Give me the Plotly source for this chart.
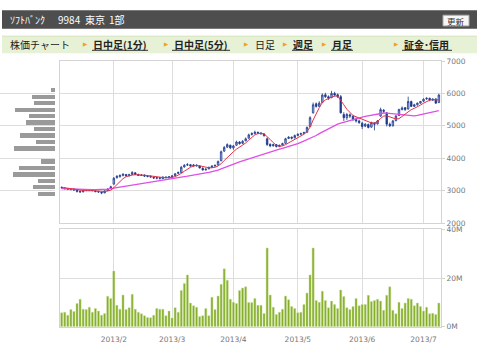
import pandas as pd
import plotly.graph_objects as go

# ---------------- data ----------------
holidays = ["2013-01-14", "2013-02-11", "2013-03-20", "2013-04-29", "2013-05-03", "2013-05-06"]
days = pd.bdate_range("2013-01-08", "2013-07-08")
dates = [d.strftime("%Y-%m-%d") for d in days if d.strftime("%Y-%m-%d") not in holidays]

open_ = [3100, 3080, 3060, 3030, 3050, 3010, 2980, 2960, 3000, 3010, 3030, 2990, 2970, 2950, 2930, 3000, 3060,
         3200, 3400, 3430, 3470, 3500, 3460, 3500, 3550, 3500, 3470, 3480, 3450, 3440, 3410, 3380, 3400, 3370, 3420, 3390,
         3430, 3460, 3530, 3560, 3730, 3790, 3800, 3760, 3790, 3760, 3690, 3640, 3670, 3720, 3760, 3790, 3920, 4220, 4340, 4400,
         4320, 4400, 4500, 4460, 4540, 4620, 4730, 4760, 4800, 4780, 4750, 4600, 4430, 4380, 4420, 4360, 4410, 4460, 4610, 4650, 4630,
         4700, 4740, 4770, 4800, 4980, 5400, 5680, 5600, 5720, 5960, 5900, 5870, 6000, 5960, 5900, 5350, 5250, 5340, 5300, 5200, 5150,
         5080, 4990, 5040, 4960, 5080, 5060, 5300, 5480, 5400, 5050, 5000, 5160, 5320, 5500, 5560, 5520, 5750, 5600, 5650, 5700,
         5760, 5830, 5850, 5790, 5830, 5720]
high = [3130, 3110, 3080, 3070, 3060, 3030, 3000, 3020, 3040, 3050, 3040, 3010, 2990, 2970, 3010, 3070, 3150,
        3420, 3480, 3500, 3540, 3510, 3520, 3600, 3570, 3520, 3510, 3500, 3480, 3470, 3430, 3420, 3420, 3440, 3440, 3450,
        3480, 3540, 3590, 3760, 3820, 3850, 3820, 3820, 3810, 3780, 3720, 3690, 3740, 3780, 3800, 3930, 4240, 4380, 4460, 4420,
        4410, 4540, 4530, 4560, 4640, 4760, 4800, 4850, 4820, 4800, 4770, 4640, 4460, 4450, 4440, 4420, 4480, 4630, 4680, 4670, 4730,
        4770, 4790, 4820, 4980, 5300, 5720, 5720, 5760, 6000, 6020, 5940, 6080, 6050, 6000, 5950, 5420, 5400, 5380, 5320, 5260, 5190,
        5120, 5080, 5070, 5130, 5110, 5180, 5560, 5520, 5420, 5100, 5180, 5340, 5530, 5600, 5580, 5900, 5780, 5680, 5720, 5770,
        5850, 5880, 5870, 5850, 5850, 5990]
low = [3060, 3040, 3020, 3010, 3000, 2940, 2930, 2950, 2980, 2990, 2980, 2950, 2930, 2890, 2920, 2990, 3050,
       3190, 3370, 3400, 3440, 3430, 3440, 3480, 3480, 3450, 3450, 3420, 3410, 3400, 3360, 3350, 3340, 3360, 3380, 3380,
       3410, 3450, 3510, 3550, 3710, 3760, 3740, 3740, 3740, 3680, 3610, 3620, 3660, 3700, 3740, 3780, 3910, 4190, 4320, 4280,
       4260, 4380, 4420, 4440, 4520, 4600, 4700, 4740, 4740, 4720, 4660, 4380, 4340, 4360, 4330, 4340, 4390, 4450, 4590, 4580, 4610,
       4680, 4710, 4740, 4790, 4960, 5380, 5560, 5580, 5700, 5860, 5800, 5850, 5900, 5860, 5380, 5150, 5180, 5240, 5150, 5100, 5060,
       4900, 4960, 4920, 4940, 4860, 5040, 5280, 5400, 4980, 4960, 4980, 5140, 5300, 5480, 5460, 5500, 5580, 5580, 5620, 5680,
       5740, 5800, 5760, 5770, 5680, 5700]
close = [3090, 3060, 3040, 3050, 3020, 2980, 2960, 3000, 3010, 3030, 3000, 2970, 2960, 2930, 2990, 3050, 3120,
         3380, 3440, 3470, 3500, 3460, 3490, 3560, 3500, 3470, 3480, 3450, 3440, 3420, 3390, 3400, 3380, 3420, 3400, 3430,
         3450, 3520, 3560, 3720, 3780, 3800, 3760, 3790, 3770, 3700, 3640, 3660, 3720, 3760, 3780, 3900, 4200, 4330, 4420, 4320,
         4380, 4500, 4450, 4520, 4600, 4720, 4760, 4800, 4780, 4760, 4700, 4420, 4380, 4420, 4360, 4400, 4450, 4600, 4650, 4620, 4700,
         4740, 4760, 4790, 4950, 5250, 5650, 5600, 5700, 5950, 5900, 5850, 6000, 5950, 5900, 5400, 5250, 5350, 5300, 5200, 5150, 5100,
         4980, 5050, 4950, 5100, 5050, 5150, 5500, 5450, 5050, 5000, 5150, 5300, 5500, 5550, 5500, 5750, 5600, 5650, 5700, 5750,
         5820, 5850, 5800, 5820, 5700, 5950]
ma_short = [3100, 3090, 3075, 3060, 3050, 3035, 3015, 3005, 2995, 2995, 3000, 3000, 2995, 2980, 2970, 2980, 3010,
            3090, 3190, 3290, 3370, 3430, 3460, 3480, 3490, 3490, 3485, 3475, 3465, 3450, 3435, 3420, 3410, 3405, 3400, 3400,
            3410, 3430, 3470, 3530, 3600, 3670, 3720, 3760, 3775, 3765, 3740, 3715, 3705, 3705, 3720, 3760, 3830, 3930, 4030, 4120,
            4200, 4280, 4340, 4400, 4470, 4560, 4650, 4720, 4760, 4770, 4750, 4670, 4580, 4480, 4400, 4370, 4380, 4420, 4470, 4520, 4580,
            4640, 4690, 4740, 4820, 4960, 5180, 5380, 5560, 5720, 5800, 5840, 5890, 5920, 5920, 5800, 5650, 5510, 5400, 5320, 5280, 5240,
            5190, 5150, 5110, 5090, 5090, 5130, 5230, 5300, 5310, 5280, 5240, 5210, 5220, 5290, 5370, 5450, 5500, 5540, 5580, 5640,
            5700, 5750, 5790, 5810, 5800, 5800]
ma_long = [3060, 3055, 3050, 3045, 3040, 3035, 3030, 3030, 3030, 3030, 3030, 3030, 3030, 3030, 3035, 3045, 3060,
           3080, 3095, 3110, 3125, 3140, 3155, 3170, 3185, 3200, 3210, 3220, 3235, 3245, 3260, 3275, 3290, 3305, 3320, 3335,
           3350, 3365, 3385, 3405, 3425, 3445, 3465, 3485, 3500, 3515, 3530, 3545, 3560, 3580, 3600, 3630, 3670, 3710, 3750, 3790,
           3830, 3860, 3890, 3920, 3950, 3985, 4020, 4055, 4090, 4120, 4150, 4180, 4205, 4230, 4255, 4280, 4305, 4330, 4360, 4390, 4420,
           4450, 4490, 4530, 4570, 4610, 4650, 4700, 4760, 4810, 4860, 4910, 4960, 5010, 5050, 5080, 5110, 5140, 5170, 5200, 5225, 5250,
           5270, 5290, 5310, 5330, 5350, 5370, 5385, 5395, 5390, 5380, 5370, 5355, 5340, 5330, 5320, 5310, 5305, 5310, 5320, 5340,
           5360, 5380, 5400, 5420, 5440, 5470]
volume_m = [5.7, 5.9, 4.7, 7.0, 6.2, 9.5, 11.3, 7.2, 7.0, 8.0, 5.9, 7.5, 6.4, 4.7, 5.4, 12.5, 11.6,
            22.9, 8.8, 7.2, 13.0, 7.0, 7.8, 13.3, 7.2, 5.9, 5.3, 4.5, 3.8, 3.7, 4.7, 7.5, 7.2, 7.2, 4.5, 6.4,
            3.6, 7.8, 5.9, 14.9, 17.8, 21.3, 9.7, 8.6, 8.0, 4.2, 4.5, 7.5, 4.5, 12.1, 7.0, 12.6, 17.4, 23.8, 19.1, 11.3,
            10.0, 9.5, 14.9, 15.9, 16.4, 9.9, 9.9, 11.6, 8.8, 8.8, 5.4, 32.4, 13.0, 8.0, 5.0, 5.9, 7.2, 12.6, 11.1, 8.3, 7.5,
            5.7, 5.9, 9.1, 13.8, 21.3, 32.4, 10.8, 10.0, 14.6, 10.8, 7.8, 10.5, 9.1, 7.5, 15.1, 12.4, 7.8, 7.0, 8.3, 11.6, 8.6,
            9.1, 9.1, 12.9, 10.3, 10.8, 11.3, 10.5, 6.7, 12.9, 16.4, 6.7, 5.3, 10.0, 7.5, 9.7, 11.6, 11.3, 8.6, 9.7, 8.3,
            6.4, 8.0, 5.3, 5.5, 5.0, 9.7]

profile_price = [2900, 3100, 3300, 3500, 3700, 3900, 4100, 4300, 4500, 4700, 4900, 5100, 5300, 5500, 5700, 5900, 6100]
profile_volume = [16.7, 22, 17.3, 42, 36, 14.3, 0, 40.7, 19.3, 35, 21.3, 29.3, 26, 40, 21.3, 22.7, 4]

month_ticks = ["2013-02-01", "2013-03-01", "2013-04-01", "2013-05-01", "2013-06-03", "2013-07-01"]
month_labels = ["2013/2", "2013/3", "2013/4", "2013/5", "2013/6", "2013/7"]
price_ticks = [2000, 3000, 4000, 5000, 6000, 7000]
vol_ticks = [0, 20, 40]
vol_labels = ["0M", "20M", "40M"]

assert len(dates) == len(close) == len(volume_m) == len(ma_short) == len(ma_long) == 124

W, H = 480, 356
def px(x):
    return x / W
def py(y):
    return 1 - y / H

NAVY = "#1f3b8c"
fig = go.Figure()
fig.add_trace(go.Candlestick(
    x=dates, open=open_, high=high, low=low, close=close,
    xaxis="x", yaxis="y", whiskerwidth=0,
    increasing=dict(line=dict(color=NAVY, width=0.8), fillcolor="#a6bde6"),
    decreasing=dict(line=dict(color=NAVY, width=0.8), fillcolor=NAVY),
    showlegend=False, hoverinfo="skip"))
fig.add_trace(go.Scatter(x=dates, y=ma_long, mode="lines", line=dict(color="#e04ee8", width=1.3),
                         xaxis="x", yaxis="y", showlegend=False, hoverinfo="skip"))
fig.add_trace(go.Scatter(x=dates, y=ma_short, mode="lines", line=dict(color="#e8304a", width=1),
                         xaxis="x", yaxis="y", showlegend=False, hoverinfo="skip"))
fig.add_trace(go.Bar(x=dates, y=volume_m, xaxis="x2", yaxis="y2", width=0.68,
                     marker=dict(color="#84ad28", line=dict(color="#cde3a0", width=0.5)),
                     showlegend=False, hoverinfo="skip"))
fig.add_trace(go.Bar(y=profile_price, x=profile_volume, orientation="h", xaxis="x3", yaxis="y",
                     width=130, marker=dict(color="#9a9a9a", line=dict(width=0)),
                     showlegend=False, hoverinfo="skip"))

grid = "#dddddd"
frame = "#d4d4d4"
tickfont = dict(family="DejaVu Sans", size=7.5, color="#777777")
xdom = [px(60), px(441)]
xrange = [-0.55, 123.7]

fig.update_layout(
    width=W, height=H, margin=dict(l=0, r=0, t=0, b=0),
    paper_bgcolor="white", plot_bgcolor="white",
    font=dict(family="DejaVu Sans"),
    bargap=0,
    xaxis=dict(domain=xdom, type="category", range=xrange, anchor="y",
               tickvals=month_ticks, showticklabels=False, ticks="",
               showgrid=True, gridcolor=grid, gridwidth=1,
               showline=True, mirror=True, linecolor=frame, linewidth=1,
               rangeslider=dict(visible=False), fixedrange=True),
    yaxis=dict(domain=[py(224.7), py(58.5)], range=[2000, 7000], anchor="x", side="right",
               tickvals=price_ticks, tickfont=tickfont, ticks="outside", ticklen=3, tickcolor=frame,
               showgrid=True, gridcolor=grid, gridwidth=1, zeroline=False,
               showline=True, mirror=True, linecolor=frame, linewidth=1),
    xaxis2=dict(domain=xdom, type="category", range=xrange, anchor="y2",
                tickvals=month_ticks, ticktext=month_labels, tickfont=tickfont,
                ticks="outside", ticklen=5, tickcolor="white",
                showgrid=True, gridcolor=grid, gridwidth=1,
                showline=True, mirror=True, linecolor=frame, linewidth=1),
    yaxis2=dict(domain=[py(331), py(231.3)], range=[0, 40], anchor="x2", side="right",
                tickvals=vol_ticks, ticktext=vol_labels, tickfont=tickfont,
                ticks="outside", ticklen=3, tickcolor=frame,
                showgrid=True, gridcolor=grid, gridwidth=1, zeroline=False,
                showline=True, mirror=True, linecolor=frame, linewidth=1),
    xaxis3=dict(domain=[0, px(55)], range=[max(profile_volume) * 55 / 42, 0], anchor="y",
                visible=False, showgrid=False, zeroline=False),
)

shapes = []
anns = []
# header bar
shapes.append(dict(type="rect", xref="paper", yref="paper", x0=px(2), x1=px(477), y0=py(25.5), y1=py(6.5),
                   fillcolor="#4e4e4e", line=dict(width=0), layer="below"))
# update button
shapes.append(dict(type="rect", xref="paper", yref="paper", x0=px(443), x1=px(469), y0=py(22.5), y1=py(11.5),
                   fillcolor="#f6f6f6", line=dict(color="#aaaaaa", width=1)))
cjk = "Noto Sans CJK JP"
for txt, x in [("ｿﾌﾄﾊﾞﾝｸ", 8), ("9984", 56), ("東京", 83), ("1部", 107)]:
    anns.append(dict(text=txt, x=px(x), y=py(16), xref="paper", yref="paper", xanchor="left", yanchor="middle",
                     showarrow=False, font=dict(family=cjk, size=10, color="white")))
anns.append(dict(text="更新", x=px(456), y=py(17), xref="paper", yref="paper", xanchor="center", yanchor="middle",
                 showarrow=False, font=dict(family=cjk, size=8.5, color="#333333")))
# green nav bar
shapes.append(dict(type="rect", xref="paper", yref="paper", x0=px(2), x1=px(477), y0=py(50.5), y1=py(33),
                   fillcolor="#e6f1d6", line=dict(width=0), layer="below"))
shapes.append(dict(type="line", xref="paper", yref="paper", x0=px(2), x1=px(477), y0=py(33), y1=py(33),
                   line=dict(color="#d2e4b8", width=1)))
anns.append(dict(text="株価チャート", x=px(8), y=py(41.5), xref="paper", yref="paper", xanchor="left",
                 yanchor="middle", showarrow=False, font=dict(family=cjk, size=10, color="#222222")))
tabs = [("日中足(1分)", 85, True), ("日中足(5分)", 166, True), ("日足", 247, False),
        ("週足", 285, True), ("月足", 324, True), ("証金･信用", 396, True)]
for txt, x, link in tabs:
    anns.append(dict(text="▶", x=px(x), y=py(41.5), xref="paper", yref="paper", xanchor="center",
                     yanchor="middle", showarrow=False, font=dict(family="DejaVu Sans", size=5.5, color="#f0a028")))
    t = f"<b>{txt}</b>" if link else txt
    anns.append(dict(text=t, x=px(x + 6), y=py(41.5), xref="paper", yref="paper", xanchor="left",
                     yanchor="middle", showarrow=False, font=dict(family=cjk, size=10, color="#222222")))
underlines = [(92, 148), (172, 230), (292, 313), (331, 353), (402, 452)]
for a, b in underlines:
    shapes.append(dict(type="line", xref="paper", yref="paper", x0=px(a), x1=px(b), y0=py(47.5), y1=py(47.5),
                       line=dict(color="#333333", width=1)))

fig.update_layout(shapes=shapes, annotations=anns)
fig.write_html("out.html", config={"displayModeBar": False, "staticPlot": True},
               post_script="document.body.style.margin='0';document.body.style.padding='0';"
                           "document.documentElement.style.overflow='hidden';")
